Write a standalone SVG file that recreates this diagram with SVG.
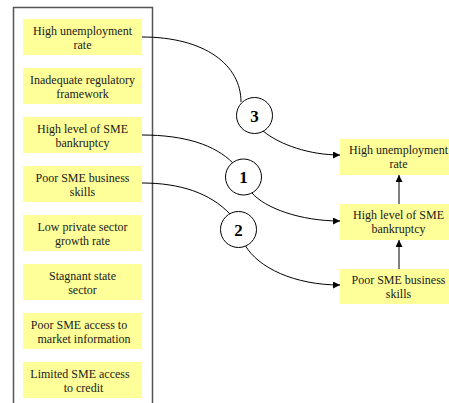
<svg xmlns="http://www.w3.org/2000/svg" width="449" height="403" viewBox="0 0 449 403">
<defs>
<style>
.box{fill:#ffff99;stroke:none}
.t{font-family:"Liberation Serif","Times New Roman",serif;font-size:12px;fill:#1a1a1a;text-anchor:middle}
.n{font-family:"Liberation Serif","Times New Roman",serif;font-size:17px;font-weight:bold;fill:#000;text-anchor:middle}
.c{fill:none;stroke:#000;stroke-width:1}
.circ{fill:#fff;stroke:#000;stroke-width:1}
</style>
<marker id="ah" viewBox="0 0 10 10" refX="10" refY="5" markerWidth="7" markerHeight="7" markerUnits="userSpaceOnUse" orient="auto">
<path d="M0,0 L10,5 L0,10 Z" fill="#000"/>
</marker>
</defs>
<rect width="449" height="403" fill="#fff"/>
<path d="M13.5,404 V7.5 H152.5 V404" fill="none" stroke="#555" stroke-width="1.5"/>
<g id="l1"><rect class="box" x="23" y="19" width="119" height="36"/><text class="t" x="82.5" y="34.5">High unemployment</text><text class="t" x="82.5" y="48.5">rate</text></g>
<g id="l2"><rect class="box" x="23" y="68" width="119" height="36"/><text class="t" x="82.5" y="83.5">Inadequate regulatory</text><text class="t" x="82.5" y="97.5">framework</text></g>
<g id="l3"><rect class="box" x="23" y="117" width="119" height="36"/><text class="t" x="82.5" y="132.5">High level of SME</text><text class="t" x="82.5" y="146.5">bankruptcy</text></g>
<g id="l4"><rect class="box" x="23" y="166" width="119" height="36"/><text class="t" x="82.5" y="181.5">Poor SME business</text><text class="t" x="82.5" y="195.5">skills</text></g>
<g id="l5"><rect class="box" x="23" y="215" width="119" height="36"/><text class="t" x="82.5" y="230.5">Low private sector</text><text class="t" x="82.5" y="244.5">growth rate</text></g>
<g id="l6"><rect class="box" x="23" y="264" width="119" height="36"/><text class="t" x="82.5" y="279.5">Stagnant state</text><text class="t" x="82.5" y="293.5">sector</text></g>
<g id="l7"><rect class="box" x="23" y="313" width="119" height="36"/><text class="t" x="79" y="328.5">Poor SME access to</text><text class="t" x="84" y="342.5">market information</text></g>
<g id="l8"><rect class="box" x="23" y="362" width="119" height="36"/><text class="t" x="80" y="377.5">Limited SME access</text><text class="t" x="83.5" y="391.5">to credit</text></g>
<g id="r1"><rect class="box" x="340" y="139" width="119" height="36"/><text class="t" x="398.5" y="154">High unemployment</text><text class="t" x="398.5" y="168">rate</text></g>
<g id="r2"><rect class="box" x="340" y="204" width="119" height="36"/><text class="t" x="398.5" y="219">High level of SME</text><text class="t" x="398.5" y="233">bankruptcy</text></g>
<g id="r3"><rect class="box" x="340" y="269" width="119" height="35"/><text class="t" x="398.5" y="284">Poor SME business</text><text class="t" x="398.5" y="298">skills</text></g>
<g id="connectors">
<path class="c" d="M142,37 C205,37 241,65 241,102"/>
<path class="c" d="M263,131 C280,145 310,155 340,155" marker-end="url(#ah)"/>
<path class="c" d="M142,135 C185,135 215,145 233,163"/>
<path class="c" d="M252,193 C265,208 300,221 340,221" marker-end="url(#ah)"/>
<path class="c" d="M142,183 C180,183 210,193 230,214"/>
<path class="c" d="M245,245 C258,268 295,285 340,285" marker-end="url(#ah)"/>
<path class="c" d="M399,269 V240" marker-end="url(#ah)"/>
<path class="c" d="M399,204 V175" marker-end="url(#ah)"/>
</g>
<g id="n3"><circle class="circ" cx="254.5" cy="115.5" r="18"/><text class="n" x="254.5" y="121.5">3</text></g>
<g id="n1"><circle class="circ" cx="243.5" cy="177" r="18"/><text class="n" x="243.5" y="183">1</text></g>
<g id="n2"><circle class="circ" cx="238.5" cy="229.5" r="18"/><text class="n" x="238.5" y="235.5">2</text></g>
</svg>
